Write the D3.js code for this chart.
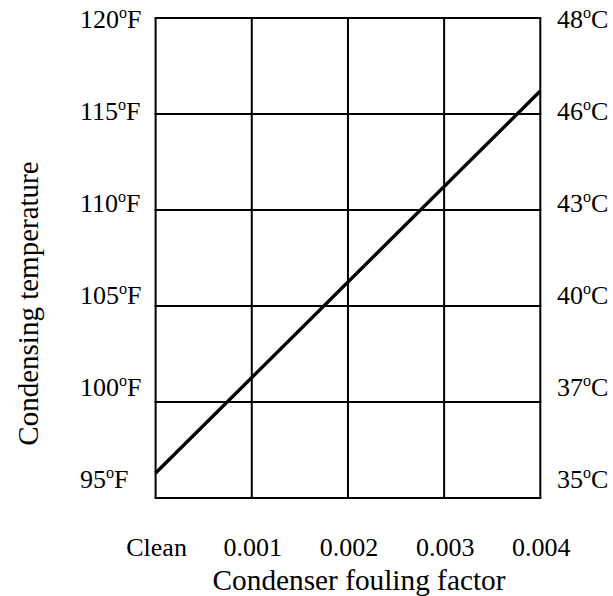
<!DOCTYPE html>
<html>
<head>
<meta charset="utf-8">
<script src="https://cdn.jsdelivr.net/npm/d3@7"></script>
<style>
  html, body { margin: 0; padding: 0; background: #fff; }
  svg { display: block; }
  text { font-family: "Liberation Serif", "Times New Roman", serif; fill: #000; }
</style>
</head>
<body>
<script>
// ---- data ----
const foulingTicks = [0, 0.001, 0.002, 0.003, 0.004];
const foulingLabels = ["Clean", "0.001", "0.002", "0.003", "0.004"];
const tempFTicks = [95, 100, 105, 110, 115, 120];
const tempFLabels = ["95", "100", "105", "110", "115", "120"];
const tempCLabels = ["35", "37", "40", "43", "46", "48"];
const lineFouling = [0, 0.004];
const lineTempF = [96.3, 116.2];
const xTitle = "Condenser fouling factor";
const yTitle = "Condensing temperature";

// ---- layout ----
const W = 613, H = 596;
const plot = { left: 155.6, right: 540.3, top: 18, bottom: 498 };

const svg = d3.select("body").append("svg")
  .attr("width", W).attr("height", H);

const x = d3.scaleLinear().domain([0, 0.004]).range([plot.left, plot.right]);
const y = d3.scaleLinear().domain([95, 120]).range([plot.bottom, plot.top]);
// label baselines are spread slightly inside the grid range
const yLab = d3.scaleLinear().domain([95, 120]).range([488, 28]);

// grid
const grid = svg.append("g").attr("stroke", "#000").attr("stroke-width", 2).attr("fill", "none");
grid.selectAll("line.v").data(foulingTicks).join("line")
  .attr("class", "v")
  .attr("x1", d => x(d)).attr("x2", d => x(d))
  .attr("y1", y(95) - 1).attr("y2", y(120) + 1)
  .attr("stroke-linecap", "square");
grid.selectAll("line.h").data(tempFTicks).join("line")
  .attr("class", "h")
  .attr("x1", x(0)).attr("x2", x(0.004))
  .attr("y1", d => y(d)).attr("y2", d => y(d))
  .attr("stroke-linecap", "square");

// data line
const pts = lineFouling.map((f, i) => [f, lineTempF[i]]);
svg.append("path")
  .datum(pts)
  .attr("fill", "none")
  .attr("stroke", "#000")
  .attr("stroke-width", 3.4)
  .attr("d", d3.line().x(d => x(d[0])).y(d => y(d[1])));

// left labels (°F)
const fs = 26;
function degLabel(g, num, unit) {
  g.append("tspan").text(num);
  g.append("tspan").attr("font-size", fs * 0.62).attr("dy", -fs * 0.38).text("o");
  g.append("tspan").attr("dy", fs * 0.38).text(unit);
}
tempFTicks.forEach((v, i) => {
  const t = svg.append("text").attr("x", 80).attr("y", yLab(v)).attr("font-size", fs);
  degLabel(t, tempFLabels[i], "F");
  const c = svg.append("text").attr("x", 557).attr("y", yLab(v)).attr("font-size", fs);
  degLabel(c, tempCLabels[i], "C");
});

// x tick labels
svg.selectAll("text.xt").data(foulingTicks).join("text")
  .attr("class", "xt")
  .attr("x", d => x(d) + 1)
  .attr("y", 556)
  .attr("text-anchor", "middle")
  .attr("font-size", fs)
  .text((d, i) => foulingLabels[i]);

// axis titles
svg.append("text")
  .attr("x", 359).attr("y", 590)
  .attr("text-anchor", "middle")
  .attr("font-size", 29.3)
  .text(xTitle);
svg.append("text")
  .attr("transform", `translate(38,${303.5}) rotate(-90)`)
  .attr("text-anchor", "middle")
  .attr("font-size", 29)
  .text(yTitle);
</script>
</body>
</html>
